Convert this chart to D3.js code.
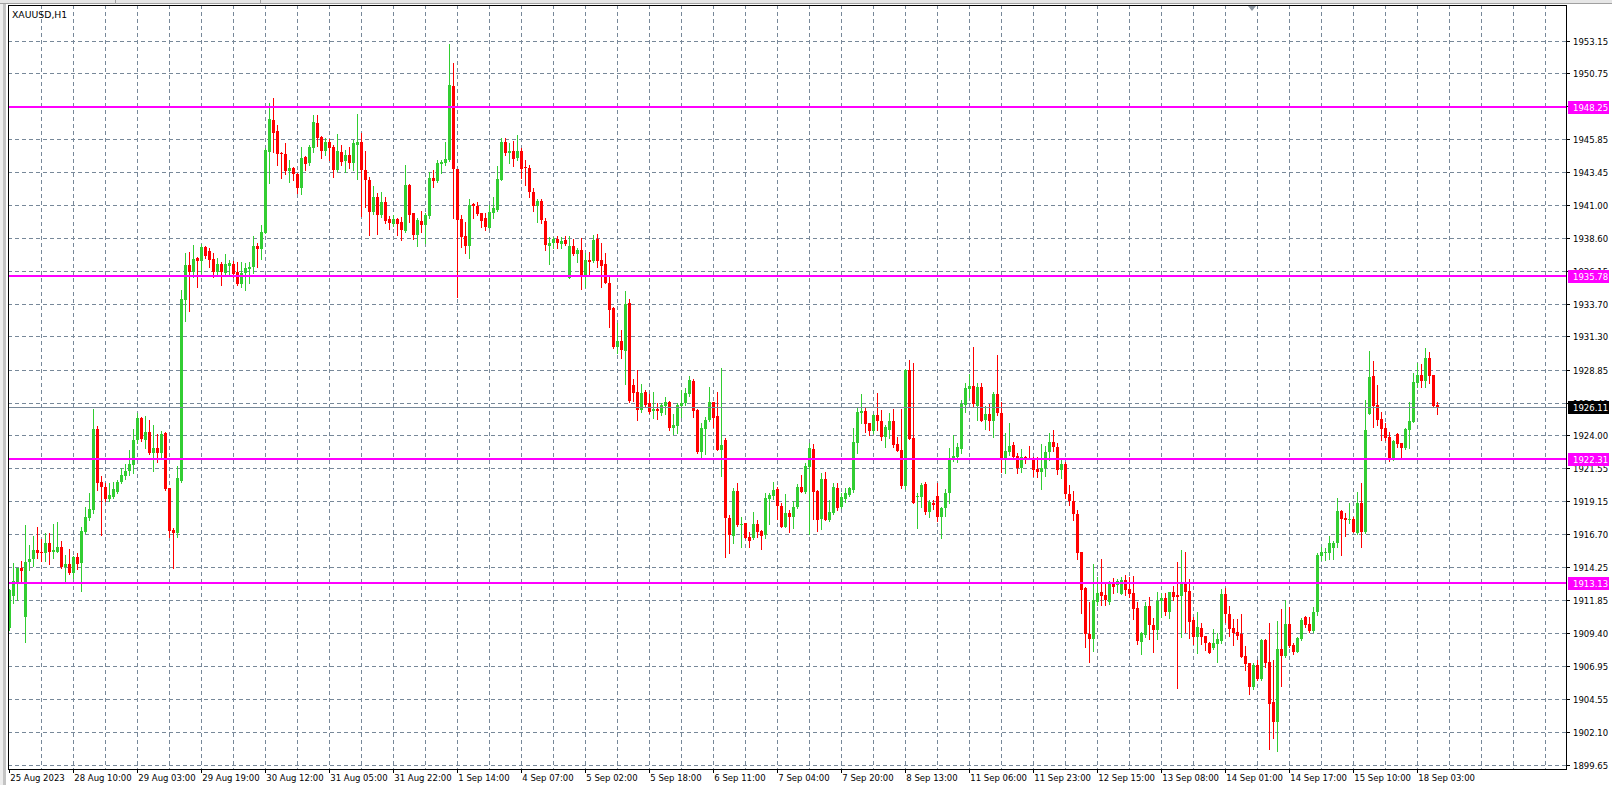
<!DOCTYPE html>
<html><head><meta charset="utf-8">
<script src="https://cdn.jsdelivr.net/npm/d3@7"></script>
<style>body{margin:0;background:#fff;overflow:hidden}svg{display:block}</style>
</head><body><svg id="c" width="1612" height="785"></svg>
<script>
const opens=[1909.83,1912.17,1913.21,1914.24,1910.65,1914.71,1914.88,1915.57,1915.42,1915.32,1916.09,1915.45,1915.45,1915.77,1914.31,1914.54,1913.90,1915.03,1914.63,1916.92,1917.96,1918.52,1924.50,1920.59,1920.20,1919.33,1919.46,1919.88,1920.56,1921.03,1921.43,1921.84,1923.69,1925.29,1923.69,1924.31,1922.71,1923.08,1922.76,1924.21,1920.17,1917.05,1916.85,1920.69,1934.03,1936.61,1936.12,1937.13,1936.93,1937.94,1937.64,1937.05,1936.12,1936.69,1935.99,1936.56,1936.69,1936.09,1935.21,1935.99,1936.34,1936.49,1938.01,1937.79,1939.00,1944.98,1947.32,1946.50,1944.91,1944.81,1943.58,1943.77,1943.33,1942.32,1944.58,1944.17,1945.22,1947.07,1946.06,1945.05,1945.72,1945.35,1943.63,1944.98,1944.29,1944.73,1944.17,1945.47,1945.72,1943.63,1942.89,1940.50,1941.66,1940.30,1941.26,1939.98,1939.64,1939.98,1939.81,1939.12,1942.52,1940.43,1938.83,1939.86,1939.56,1940.25,1943.01,1942.81,1944.07,1944.12,1944.36,1949.83,1943.67,1939.98,1938.75,1938.01,1941.11,1940.97,1940.47,1940.06,1939.37,1940.47,1940.67,1942.89,1945.67,1944.85,1945.03,1944.54,1945.03,1943.87,1943.75,1942.00,1941.00,1941.30,1939.88,1938.01,1938.21,1938.53,1938.16,1938.46,1935.68,1938.01,1937.42,1937.72,1935.80,1936.98,1936.91,1938.53,1936.98,1936.69,1935.26,1933.41,1930.58,1931.00,1930.29,1933.78,1927.75,1927.26,1925.91,1927.26,1926.40,1925.86,1925.96,1925.66,1926.20,1926.47,1924.60,1924.75,1926.23,1926.40,1927.09,1928.05,1925.91,1922.83,1924.50,1925.17,1926.47,1925.46,1922.95,1923.69,1917.96,1916.63,1919.93,1917.42,1917.54,1916.55,1916.43,1917.49,1916.97,1916.68,1919.34,1919.56,1920.05,1918.82,1917.29,1918.28,1918.03,1918.72,1920.25,1919.83,1921.72,1923.03,1919.93,1917.83,1920.81,1917.78,1918.28,1920.17,1918.77,1919.31,1919.63,1920.00,1923.44,1925.71,1925.86,1924.92,1924.38,1925.54,1925.12,1923.94,1924.43,1925.12,1923.40,1922.95,1920.29,1928.86,1923.86,1919.46,1919.50,1920.44,1918.40,1919.06,1919.55,1917.98,1918.69,1919.80,1922.21,1922.46,1923.05,1926.27,1927.45,1927.67,1926.22,1927.58,1925.16,1925.61,1925.12,1927.08,1925.70,1922.38,1922.83,1923.32,1922.51,1921.64,1922.41,1922.38,1922.31,1921.52,1921.35,1921.59,1922.78,1923.51,1923.20,1921.50,1921.90,1919.70,1919.20,1918.20,1915.42,1912.74,1909.35,1909.00,1911.76,1912.50,1912.25,1911.76,1913.23,1912.99,1912.32,1913.36,1912.67,1912.42,1911.26,1908.80,1909.30,1911.44,1910.03,1909.66,1911.83,1912.00,1911.02,1912.50,1912.25,1912.18,1913.23,1912.54,1910.40,1909.17,1909.83,1909.22,1908.73,1908.31,1908.63,1908.85,1912.32,1910.82,1909.78,1909.54,1909.34,1907.74,1907.20,1905.48,1907.08,1906.04,1908.92,1907.32,1904.32,1902.89,1908.26,1907.74,1910.10,1908.55,1908.06,1909.00,1910.60,1910.10,1909.59,1911.00,1915.13,1915.32,1915.37,1915.70,1916.06,1918.45,1917.91,1917.79,1917.86,1916.85,1919.07,1916.92,1925.61,1928.42,1926.28,1925.24,1924.55,1923.94,1922.26,1924.14,1923.45,1923.08,1924.43,1925.05,1927.93,1928.49,1928.07,1929.77,1928.49,1926.28];
const highs=[1912.70,1914.58,1914.26,1914.76,1917.41,1915.94,1916.63,1917.24,1916.38,1916.80,1916.80,1917.49,1917.64,1916.26,1915.18,1915.64,1915.15,1915.32,1917.24,1918.72,1919.80,1926.00,1924.70,1921.00,1920.54,1920.49,1920.61,1920.74,1921.60,1921.90,1922.95,1924.48,1925.71,1925.41,1925.46,1925.17,1924.80,1924.13,1924.36,1924.31,1920.17,1917.22,1921.77,1934.77,1937.52,1937.60,1938.09,1937.23,1938.16,1938.01,1937.84,1937.52,1937.13,1936.86,1937.42,1936.98,1936.93,1936.83,1936.81,1936.73,1936.81,1938.75,1938.21,1939.56,1945.22,1948.55,1948.97,1946.95,1944.98,1945.64,1944.36,1943.87,1943.43,1945.30,1944.66,1945.47,1947.69,1947.69,1946.14,1945.96,1945.89,1945.47,1946.28,1945.47,1945.10,1945.30,1945.84,1947.76,1946.33,1945.05,1943.13,1942.44,1941.90,1942.00,1941.66,1940.23,1940.30,1940.06,1940.13,1943.99,1942.59,1940.47,1940.06,1940.60,1940.43,1943.50,1943.62,1944.36,1944.36,1945.72,1952.93,1951.50,1943.67,1940.30,1939.81,1941.46,1941.16,1941.24,1940.47,1940.47,1941.04,1941.65,1943.92,1945.96,1945.96,1945.59,1945.77,1946.21,1945.22,1944.36,1944.00,1942.30,1941.50,1941.50,1940.10,1938.65,1938.70,1938.75,1938.65,1938.75,1938.75,1938.51,1937.84,1938.58,1937.47,1937.60,1938.83,1938.90,1938.21,1937.47,1935.75,1933.49,1932.30,1931.81,1934.72,1934.10,1928.17,1928.86,1927.83,1927.38,1927.06,1927.26,1926.40,1926.45,1926.89,1926.57,1925.61,1926.40,1927.38,1927.51,1928.42,1928.17,1925.96,1924.92,1925.41,1927.58,1926.52,1927.26,1929.00,1923.81,1918.15,1920.17,1920.49,1918.03,1917.59,1916.92,1918.35,1917.78,1917.05,1919.75,1919.75,1920.57,1920.25,1919.02,1919.70,1918.52,1919.19,1920.42,1921.11,1921.97,1923.49,1923.40,1920.00,1921.28,1921.30,1919.26,1920.49,1920.49,1919.75,1920.17,1920.25,1924.55,1926.03,1927.09,1926.10,1924.97,1925.61,1927.14,1925.91,1924.80,1925.71,1925.96,1923.89,1925.96,1928.91,1929.60,1929.35,1919.75,1920.49,1920.61,1919.26,1919.26,1920.54,1918.77,1920.04,1923.12,1924.06,1923.44,1926.64,1927.92,1928.56,1930.53,1927.87,1927.87,1926.20,1926.35,1927.21,1929.96,1926.52,1924.18,1924.92,1923.51,1922.75,1923.02,1922.51,1923.24,1922.41,1922.46,1923.39,1923.24,1924.18,1924.40,1923.50,1922.30,1922.10,1920.40,1919.90,1918.50,1915.42,1912.86,1911.76,1914.54,1913.60,1914.88,1913.16,1913.28,1913.48,1913.41,1913.60,1913.73,1913.55,1913.65,1911.76,1909.54,1911.76,1912.13,1910.53,1912.50,1912.37,1912.37,1912.50,1912.91,1914.71,1915.57,1915.40,1913.40,1910.65,1911.01,1910.15,1909.22,1908.80,1909.71,1909.41,1912.69,1912.79,1911.43,1910.45,1910.45,1910.82,1908.48,1907.25,1907.20,1907.45,1909.00,1909.00,1910.20,1907.45,1910.32,1911.21,1911.88,1911.33,1908.68,1909.17,1910.52,1910.69,1910.65,1911.38,1915.32,1915.82,1915.69,1916.63,1916.25,1919.39,1918.53,1918.28,1919.07,1918.03,1919.88,1920.49,1926.65,1930.26,1929.52,1927.75,1925.78,1924.92,1924.31,1923.69,1924.23,1923.50,1924.55,1926.52,1928.61,1929.35,1929.30,1930.51,1930.21,1928.49,1926.52];
const lows=[1909.66,1911.63,1911.88,1913.11,1908.80,1914.09,1914.41,1914.95,1914.78,1914.78,1914.56,1914.95,1915.45,1914.22,1913.30,1913.77,1913.48,1914.19,1912.57,1916.80,1917.78,1918.28,1920.00,1916.68,1919.19,1919.21,1919.38,1919.75,1920.49,1920.80,1921.11,1921.23,1923.45,1923.64,1923.08,1922.66,1921.43,1922.09,1922.34,1920.00,1916.50,1914.22,1916.55,1920.59,1932.50,1933.21,1935.70,1935.01,1935.99,1937.10,1936.49,1935.75,1935.87,1935.13,1935.80,1935.87,1935.75,1935.13,1934.96,1934.77,1935.31,1935.99,1936.49,1937.05,1938.95,1942.69,1944.98,1943.99,1943.06,1943.33,1942.76,1942.89,1941.90,1941.85,1943.63,1943.99,1944.98,1945.42,1944.54,1944.73,1944.36,1943.13,1943.58,1943.99,1943.50,1943.75,1943.63,1942.94,1940.23,1940.92,1938.83,1940.35,1938.90,1940.13,1939.74,1939.27,1939.49,1938.83,1938.46,1939.07,1939.81,1938.51,1938.01,1939.07,1938.21,1940.11,1942.39,1942.71,1943.38,1943.99,1944.31,1940.06,1934.27,1937.96,1937.47,1937.15,1940.11,1940.30,1939.44,1939.19,1939.32,1940.06,1940.62,1942.89,1944.73,1944.17,1943.92,1944.36,1943.01,1942.52,1941.60,1940.60,1939.80,1939.70,1937.72,1936.66,1937.84,1937.84,1937.84,1938.09,1935.68,1937.35,1936.86,1934.82,1935.01,1935.87,1936.86,1936.44,1935.01,1935.26,1932.06,1930.46,1930.09,1929.72,1927.80,1926.52,1926.57,1925.17,1925.78,1926.15,1925.71,1925.34,1925.24,1925.54,1925.61,1924.43,1924.11,1924.23,1925.41,1926.28,1926.94,1925.41,1922.71,1922.39,1922.66,1925.12,1924.68,1922.95,1921.01,1915.08,1915.37,1916.11,1917.34,1915.82,1916.43,1915.82,1916.38,1916.50,1915.64,1916.43,1917.47,1919.31,1917.84,1917.24,1917.24,1916.92,1917.22,1918.65,1919.83,1919.75,1916.73,1917.83,1916.99,1917.10,1917.78,1917.71,1918.20,1918.52,1918.70,1919.14,1919.56,1919.88,1922.71,1924.92,1924.31,1924.06,1924.18,1924.43,1923.69,1923.20,1923.81,1923.20,1922.88,1920.12,1920.05,1923.76,1919.06,1917.17,1918.72,1918.22,1917.98,1918.57,1917.71,1916.48,1918.08,1919.01,1922.16,1922.09,1922.75,1925.78,1926.89,1926.10,1925.16,1925.12,1924.47,1924.43,1923.93,1925.53,1921.35,1921.23,1922.58,1922.28,1921.28,1921.35,1921.96,1922.26,1921.03,1920.98,1920.07,1921.03,1922.21,1922.90,1921.20,1920.90,1919.40,1918.90,1917.80,1914.88,1910.90,1908.43,1907.33,1908.12,1911.51,1911.51,1911.51,1911.59,1912.42,1912.50,1912.32,1912.25,1912.13,1910.50,1908.63,1907.89,1909.17,1908.98,1908.07,1909.00,1910.65,1910.77,1910.58,1911.88,1905.36,1909.17,1909.54,1909.04,1908.63,1907.94,1908.63,1908.18,1907.94,1908.26,1907.32,1908.73,1910.28,1909.24,1908.55,1908.97,1907.64,1906.71,1904.94,1905.30,1905.97,1905.97,1906.90,1900.87,1901.71,1900.75,1905.53,1907.64,1908.38,1907.89,1908.01,1908.92,1909.91,1909.54,1909.54,1910.80,1914.83,1914.83,1914.88,1914.90,1915.82,1915.20,1916.60,1917.54,1916.87,1916.75,1915.82,1916.80,1925.61,1924.68,1924.80,1923.69,1923.69,1922.17,1922.22,1923.20,1922.34,1923.03,1923.13,1925.05,1927.63,1927.58,1927.63,1927.93,1926.23,1925.59];
const closes=[1912.61,1913.28,1914.22,1914.04,1914.66,1914.90,1915.57,1915.37,1915.32,1916.11,1915.45,1915.54,1915.77,1914.31,1914.54,1913.90,1915.05,1914.56,1916.97,1918.00,1918.60,1924.50,1920.54,1920.20,1919.33,1919.63,1920.07,1920.56,1921.11,1921.43,1921.89,1923.69,1925.29,1923.74,1924.31,1922.71,1923.08,1922.76,1924.13,1920.05,1916.97,1916.85,1920.91,1934.10,1936.61,1936.12,1937.05,1936.93,1937.97,1937.30,1936.98,1936.12,1936.69,1936.07,1936.69,1936.78,1935.97,1935.21,1935.99,1936.36,1936.49,1938.01,1937.82,1939.02,1945.10,1947.39,1946.38,1944.81,1944.81,1943.58,1943.77,1943.33,1942.32,1944.49,1944.09,1945.30,1947.19,1946.01,1945.05,1945.72,1945.22,1943.63,1945.05,1944.24,1944.73,1944.17,1945.64,1945.72,1943.63,1942.89,1940.55,1941.61,1940.30,1941.26,1939.88,1939.74,1939.98,1939.64,1939.19,1942.52,1940.30,1938.83,1939.93,1939.56,1940.30,1943.01,1942.81,1944.12,1944.19,1944.41,1949.90,1943.67,1939.93,1938.70,1938.01,1941.04,1940.99,1940.38,1939.88,1939.44,1940.55,1940.79,1942.96,1945.67,1944.85,1945.03,1944.41,1945.03,1943.70,1943.75,1942.00,1941.00,1941.30,1939.90,1938.09,1938.26,1938.53,1938.21,1938.38,1938.16,1938.01,1937.42,1937.72,1935.75,1936.98,1936.86,1938.46,1936.93,1936.56,1935.31,1933.29,1930.58,1931.00,1930.34,1933.73,1926.57,1927.19,1925.91,1927.19,1926.28,1925.78,1925.96,1925.86,1926.28,1926.52,1924.60,1924.80,1926.28,1926.45,1927.19,1928.12,1925.86,1922.83,1924.55,1925.17,1926.47,1925.29,1922.95,1923.32,1917.96,1916.68,1919.93,1917.42,1917.49,1916.48,1916.26,1917.49,1916.87,1916.63,1919.43,1919.63,1920.00,1918.82,1917.29,1918.33,1918.03,1918.72,1920.25,1919.88,1921.77,1923.12,1919.88,1917.78,1920.81,1917.78,1918.40,1920.25,1918.65,1919.51,1919.75,1920.17,1923.57,1925.78,1925.86,1924.85,1924.38,1925.54,1925.12,1923.94,1924.62,1925.12,1923.32,1922.90,1920.29,1928.86,1923.76,1919.06,1919.55,1920.36,1918.35,1919.08,1918.89,1917.98,1918.69,1919.75,1922.26,1922.51,1923.15,1926.35,1927.50,1927.70,1926.32,1927.58,1925.12,1925.58,1925.12,1927.08,1925.70,1922.38,1922.88,1923.24,1922.46,1921.64,1922.41,1922.26,1922.28,1921.47,1921.35,1921.64,1922.78,1923.51,1923.20,1921.50,1921.90,1919.70,1919.20,1918.20,1915.37,1912.62,1909.35,1909.00,1911.88,1912.42,1912.18,1911.88,1913.23,1912.86,1913.31,1913.36,1912.62,1912.32,1911.19,1908.88,1909.47,1911.44,1910.03,1909.66,1911.81,1912.00,1911.02,1912.50,1912.13,1912.13,1913.23,1912.49,1910.28,1909.17,1909.86,1909.17,1908.68,1907.99,1908.73,1908.97,1912.32,1910.82,1909.73,1909.46,1909.24,1907.64,1907.15,1905.48,1907.08,1906.04,1908.92,1907.25,1904.20,1902.89,1908.26,1907.74,1910.10,1908.48,1908.06,1909.04,1910.40,1910.03,1909.59,1911.01,1915.20,1915.45,1915.45,1916.06,1916.05,1918.45,1917.86,1917.79,1917.86,1916.92,1919.07,1916.92,1924.43,1928.32,1926.20,1925.17,1924.50,1923.81,1922.26,1923.62,1923.40,1923.08,1924.50,1925.10,1928.00,1928.49,1928.07,1929.77,1928.44,1926.23,1926.11];
const timeLabels=["25 Aug 2023","28 Aug 10:00","29 Aug 03:00","29 Aug 19:00","30 Aug 12:00","31 Aug 05:00","31 Aug 22:00","1 Sep 14:00","4 Sep 07:00","5 Sep 02:00","5 Sep 18:00","6 Sep 11:00","7 Sep 04:00","7 Sep 20:00","8 Sep 13:00","11 Sep 06:00","11 Sep 23:00","12 Sep 15:00","13 Sep 08:00","14 Sep 01:00","14 Sep 17:00","15 Sep 10:00","18 Sep 03:00"];
const priceTicks=[1953.15,1950.75,1948.35,1945.85,1943.45,1941.00,1938.60,1936.15,1933.70,1931.30,1928.85,1926.40,1924.00,1921.55,1919.15,1916.70,1914.25,1911.85,1909.40,1906.95,1904.55,1902.10,1899.65];
const levels=[1948.25,1935.78,1922.31,1913.13];
const bidPrice=1926.11;
const symbolTitle="XAUUSD,H1";

const W=1612,H=785;
const P={left:8,right:1566,top:5,bottom:769};
const n=opens.length;
const x=d3.scaleLinear().domain([0,n-1]).range([9.3,9.3+4*(n-1)]);
const y=d3.scaleLinear().domain([1899.65,1953.15]).range([765.6,41]);
const svg=d3.select('#c');
const FONT="'DejaVu Sans', sans-serif";
const GRID="#778899";

svg.append('rect').attr('width',W).attr('height',H).attr('fill','#fff');
// window frame bits
svg.append('rect').attr('x',0).attr('y',0).attr('width',3).attr('height',H).attr('fill','#ededed');
svg.append('rect').attr('x',3).attr('y',0).attr('width',3).attr('height',H).attr('fill','#c4c4c4');
svg.append('rect').attr('x',0).attr('y',0).attr('width',W).attr('height',3).attr('fill','#e6e6e6');
svg.append('line').attr('x1',0).attr('x2',W).attr('y1',3.5).attr('y2',3.5).attr('stroke','#a0a0a0');
[115,260].forEach(v=>svg.append('line').attr('x1',v+0.5).attr('x2',v+0.5).attr('y1',0).attr('y2',4).attr('stroke','#a0a0a0'));

const clip=svg.append('clipPath').attr('id','pc').append('rect')
  .attr('x',P.left+1).attr('y',P.top+1).attr('width',P.right-P.left-1).attr('height',P.bottom-P.top-1);
const g=svg.append('g').attr('clip-path','url(#pc)');

// grid
const snap=v=>Math.floor(v)+0.5;
const vgrid=d3.range(8,(P.right-9.3)/4,8);
g.selectAll('.vg').data(vgrid).enter().append('line')
  .attr('x1',d=>snap(x(d))).attr('x2',d=>snap(x(d))).attr('y1',P.top).attr('y2',P.bottom)
  .attr('stroke',GRID).attr('stroke-dasharray','4,3');
g.selectAll('.hg').data(priceTicks).enter().append('line')
  .attr('x1',P.left).attr('x2',P.right).attr('y1',d=>snap(y(d))).attr('y2',d=>snap(y(d)))
  .attr('stroke',GRID).attr('stroke-dasharray','4,3');

// candles
const idx=d3.range(n);
g.selectAll('.wick').data(idx).enter().append('line')
  .attr('x1',i=>snap(x(i))).attr('x2',i=>snap(x(i)))
  .attr('y1',i=>Math.round(y(highs[i]))).attr('y2',i=>Math.round(y(lows[i]))+1)
  .attr('stroke',i=>closes[i]>=opens[i]?'#32CD32':'#FF0000');
g.selectAll('.body').data(idx).enter().append('rect')
  .attr('x',i=>Math.floor(x(i))-1).attr('width',3)
  .attr('y',i=>Math.round(y(Math.max(opens[i],closes[i]))))
  .attr('height',i=>Math.max(1,Math.round(y(Math.min(opens[i],closes[i])))-Math.round(y(Math.max(opens[i],closes[i])))))
  .attr('fill',i=>closes[i]>=opens[i]?'#32CD32':'#FF0000');

// level lines
g.selectAll('.lvl').data(levels).enter().append('line')
  .attr('x1',P.left).attr('x2',P.right).attr('y1',d=>Math.round(y(d))).attr('y2',d=>Math.round(y(d)))
  .attr('stroke','#FF00FF').attr('stroke-width',2);
// bid line
g.append('line').attr('x1',P.left).attr('x2',P.right)
  .attr('y1',snap(y(bidPrice))).attr('y2',snap(y(bidPrice))).attr('stroke',GRID);

// border
svg.append('rect').attr('x',P.left+0.5).attr('y',P.top+0.5).attr('width',P.right-P.left).attr('height',P.bottom-P.top)
  .attr('fill','none').attr('stroke','#000');

// title
svg.append('text').attr('x',12).attr('y',18).attr('font-family',FONT).attr('font-size',9.3).attr('fill','#000').text(symbolTitle);
// shift marker
svg.append('path').attr('d','M1248,6 L1256,6 L1252,11 Z').attr('fill','#8c96a0');

// price axis
const ya=svg.append('g');
ya.selectAll('.pt').data(priceTicks).enter().append('line')
  .attr('x1',P.right).attr('x2',P.right+4).attr('y1',d=>snap(y(d))).attr('y2',d=>snap(y(d))).attr('stroke','#000');
ya.selectAll('.pl').data(priceTicks).enter().append('text')
  .attr('x',P.right+7).attr('y',d=>y(d)+3.5).attr('font-family',FONT).attr('font-size',8.5).attr('fill','#000')
  .text(d=>d.toFixed(2));
const boxes=levels.map(v=>({v,bg:'#FF00FF'})).concat([{v:bidPrice,bg:'#000'}]);
const bx=ya.selectAll('.bx').data(boxes).enter().append('g');
bx.append('rect').attr('x',P.right+2).attr('y',d=>Math.round(y(d.v))-6).attr('width',41).attr('height',13).attr('fill',d=>d.bg);
bx.append('text').attr('x',P.right+7).attr('y',d=>Math.round(y(d.v))+3.5).attr('font-family',FONT).attr('font-size',8.5)
  .attr('fill','#fff').text(d=>d.v.toFixed(2));

// time axis
const tl=timeLabels.map((t,k)=>({t,i:k*16}));
const xa=svg.append('g');
xa.selectAll('.tt').data(tl).enter().append('line')
  .attr('x1',d=>snap(x(d.i))).attr('x2',d=>snap(x(d.i))).attr('y1',P.bottom).attr('y2',P.bottom+4).attr('stroke','#000');
xa.selectAll('.tx').data(tl).enter().append('text')
  .attr('x',d=>x(d.i)+1).attr('y',P.bottom+12).attr('font-family',FONT).attr('font-size',8.5).attr('fill','#000')
  .text(d=>d.t);
</script></body></html>
